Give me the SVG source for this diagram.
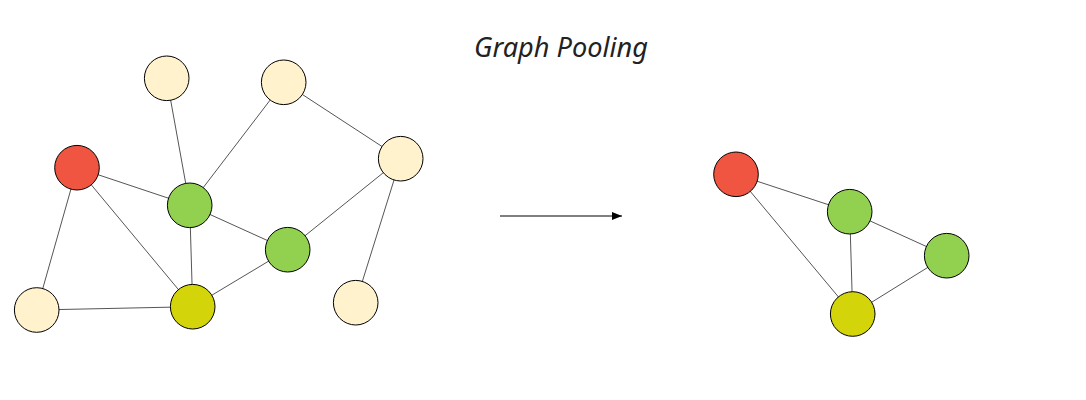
<svg xmlns="http://www.w3.org/2000/svg" width="1086" height="400" viewBox="0 0 1086 400">
<defs>
<style>
.n{stroke:#000;stroke-width:1}
.c{fill:#FFF2CC}.r{fill:#F05542}.g{fill:#92D050}.y{fill:#D4D40A}
.e line{stroke:#555;stroke-width:1}
.t{font-family:"Noto Sans",sans-serif;font-style:italic;font-size:27px;fill:#222}
</style>
<marker id="ah" markerWidth="10" markerHeight="8" refX="10" refY="4" orient="auto" markerUnits="userSpaceOnUse">
<path d="M0,0 L10,4 L0,8 Z" fill="#000"/>
</marker>
</defs>
<rect width="1086" height="400" fill="#fff"/>
<text class="t" x="561" y="57" text-anchor="middle" textLength="174" lengthAdjust="spacingAndGlyphs">Graph Pooling</text>
<g id="connectors">
<g class="e">
<line x1="166.7" y1="78.3" x2="189.7" y2="205.3"/>
<line x1="283.7" y1="82.3" x2="189.7" y2="205.3"/>
<line x1="283.7" y1="82.3" x2="400.7" y2="158.7"/>
<line x1="77" y1="167.7" x2="189.7" y2="205.3"/>
<line x1="77" y1="167.7" x2="36.7" y2="310"/>
<line x1="77" y1="167.7" x2="192.7" y2="306.7"/>
<line x1="189.7" y1="205.3" x2="192.7" y2="306.7"/>
<line x1="189.7" y1="205.3" x2="287.7" y2="249.7"/>
<line x1="287.7" y1="249.7" x2="400.7" y2="158.7"/>
<line x1="287.7" y1="249.7" x2="192.7" y2="306.7"/>
<line x1="36.7" y1="310" x2="192.7" y2="306.7"/>
<line x1="400.7" y1="158.7" x2="355.7" y2="302.7"/>
<line x1="736" y1="174.3" x2="849.7" y2="211.7"/>
<line x1="736" y1="174.3" x2="852.7" y2="314"/>
<line x1="849.7" y1="211.7" x2="852.7" y2="314"/>
<line x1="849.7" y1="211.7" x2="946.7" y2="255.7"/>
<line x1="946.7" y1="255.7" x2="852.7" y2="314"/>
</g>
<line x1="500" y1="216" x2="622" y2="216" stroke="#000" stroke-width="1" marker-end="url(#ah)"/>
</g>
<g id="n1"><circle class="n c" cx="166.7" cy="78.3" r="22.3"/></g>
<g id="n2"><circle class="n c" cx="283.7" cy="82.3" r="22.3"/></g>
<g id="n3"><circle class="n c" cx="400.7" cy="158.7" r="22.3"/></g>
<g id="n4"><circle class="n r" cx="77" cy="167.7" r="22.3"/></g>
<g id="n5"><circle class="n g" cx="189.7" cy="205.3" r="22.3"/></g>
<g id="n6"><circle class="n g" cx="287.7" cy="249.7" r="22.3"/></g>
<g id="n7"><circle class="n c" cx="36.7" cy="310" r="22.3"/></g>
<g id="n8"><circle class="n y" cx="192.7" cy="306.7" r="22.3"/></g>
<g id="n9"><circle class="n c" cx="355.7" cy="302.7" r="22.3"/></g>
<g id="m1"><circle class="n r" cx="736" cy="174.3" r="22.3"/></g>
<g id="m2"><circle class="n g" cx="849.7" cy="211.7" r="22.3"/></g>
<g id="m3"><circle class="n g" cx="946.7" cy="255.7" r="22.3"/></g>
<g id="m4"><circle class="n y" cx="852.7" cy="314" r="22.3"/></g>
</svg>
